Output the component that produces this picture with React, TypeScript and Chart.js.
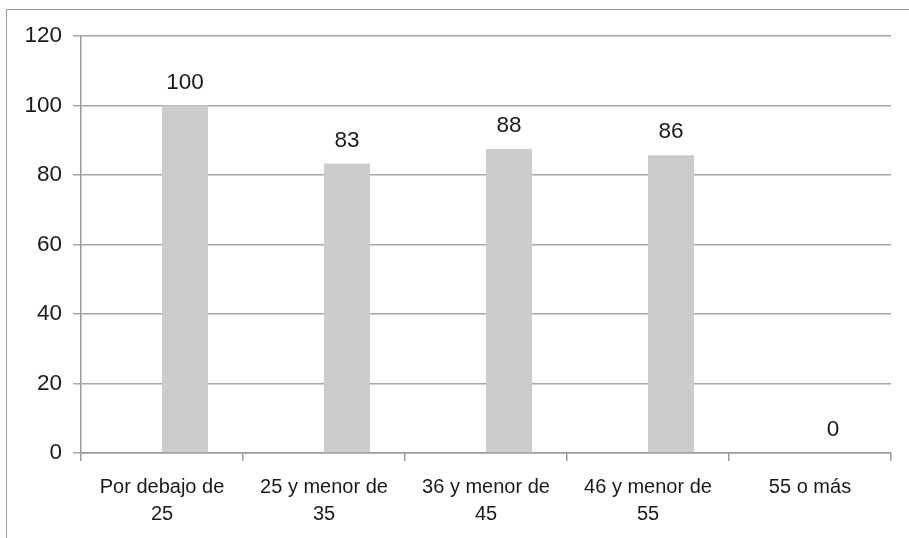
import React, { useEffect, useRef } from "react";
import { Chart, registerables } from "chart.js";

Chart.register(...registerables);

const categories: string[][] = [
  ["Por debajo de", "25"],
  ["25 y menor de", "35"],
  ["36 y menor de", "45"],
  ["46 y menor de", "55"],
  ["55 o más"],
];
const emptySeries: (number | null)[] = [null, null, null, null, null];
const values: number[] = [100, 83.3, 87.5, 85.7, 0];
const yTicks: number[] = [0, 20, 40, 60, 80, 100, 120];

const FONT = "'Liberation Sans', Arial, sans-serif";

const labelPlugin = {
  id: "valueLabels",
  afterDatasetsDraw(chart: any) {
    const ctx = chart.ctx;
    const meta = chart.getDatasetMeta(1);
    ctx.save();
    ctx.font = `22.5px ${FONT}`;
    ctx.fillStyle = "#1a1a1a";
    ctx.textAlign = "center";
    ctx.textBaseline = "alphabetic";
    meta.data.forEach((el: any, i: number) => {
      const v = values[i];
      ctx.fillText(String(Math.round(v)), el.x, el.y - 17);
    });
    ctx.restore();
  },
};

export default function App() {
  const ref = useRef<HTMLCanvasElement | null>(null);
  useEffect(() => {
    document.body.style.margin = "0";
    const chart = new Chart(ref.current as HTMLCanvasElement, {
      type: "bar",
      data: {
        labels: categories,
        datasets: [
          { label: "", data: emptySeries, backgroundColor: "rgba(0,0,0,0)" },
          { label: "Serie", data: values, backgroundColor: "#cbcccd" },
        ],
      },
      options: {
        animation: false,
        responsive: false,
        maintainAspectRatio: false,
        layout: { padding: { left: 0, right: 18, top: 36, bottom: 0 } },
        plugins: { legend: { display: false }, tooltip: { enabled: false } },
        datasets: { bar: { categoryPercentage: 0.568, barPercentage: 1 } },
        scales: {
          x: {
            offset: true,
            grid: {
              offset: true,
              drawOnChartArea: false,
              drawTicks: true,
              tickLength: 8,
              color: "#999999",
              lineWidth: 1.5,
            },
            border: { color: "#999999", width: 1.5 },
            ticks: {
              font: { family: FONT, size: 20, lineHeight: 1.35 },
              color: "#1a1a1a",
              padding: 13,
              maxRotation: 0,
              autoSkip: false,
            },
            afterFit: (s: any) => {
              s.height = 85;
            },
          },
          y: {
            min: 0,
            max: 120,
            afterBuildTicks: (s: any) => {
              s.ticks = yTicks.map((v) => ({ value: v }));
            },
            grid: {
              color: "#a6a6a6",
              lineWidth: 1.5,
              tickLength: 8,
              drawTicks: true,
            },
            border: { color: "#999999", width: 1.5 },
            ticks: {
              font: { family: FONT, size: 22.5 },
              color: "#1a1a1a",
              padding: 11,
            },
            afterFit: (s: any) => {
              s.width = 81;
            },
          },
        },
      },
      plugins: [labelPlugin],
    });
    return () => chart.destroy();
  }, []);

  return (
    <div style={{ position: "relative", width: 909, height: 538, overflow: "hidden", background: "#fff" }}>
      <div
        style={{
          position: "absolute",
          left: 6,
          top: 9,
          width: 940,
          height: 600,
          border: "1.5px solid #9a9a9a",
          boxSizing: "border-box",
        }}
      />
      <canvas ref={ref} width={909} height={538} style={{ position: "absolute", left: 0, top: 0 }} />
    </div>
  );
}
